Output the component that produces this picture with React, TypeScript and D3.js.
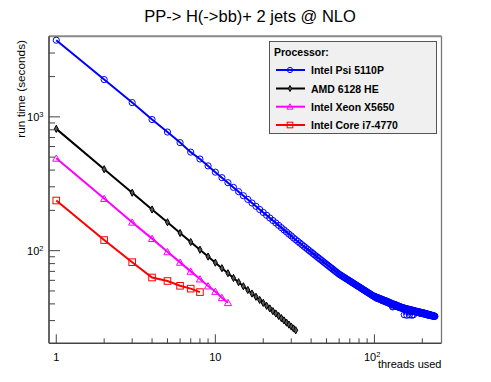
import React from 'react';
import * as d3 from 'd3';

const W = 491;
const H = 382;

const TITLE = 'PP-> H(->bb)+ 2 jets @ NLO';
const X_TITLE = 'threads used';
const Y_TITLE = 'run time (seconds)';
const LEGEND_TITLE = 'Processor:';
const SERIES_NAMES = ['Intel Psi 5110P', 'AMD 6128 HE', 'Intel Xeon X5650', 'Intel Core i7-4770'];
const SERIES_COLORS = ['#0000ff', '#000000', '#ff00ff', '#ff0000'];
const SERIES_MARKERS = ['circle', 'diamond', 'triangle', 'square'];

// run time (s) for 1..240 threads, Intel Xeon Phi ("Psi") 5110P
const psiTimes = [
  3740, 1900, 1278, 955, 770, 642, 545, 484, 430, 386,
  351, 322, 297, 276, 257.5, 241.5, 227, 214.5, 203, 193,
  183.8, 175.5, 168, 161, 154.5, 148.5, 143, 138, 133, 129,
  124.4, 120.7, 117.2, 113.9, 110.8, 107.8, 105.1, 102.4, 99.9, 97.6,
  95.3, 93.1, 91.1, 89.1, 87.3, 85.5, 83.8, 82.1, 80.6, 79.0,
  77.6, 76.2, 74.8, 73.6, 72.3, 71.1, 69.9, 68.8, 67.7, 66.7,
  65.87, 65.06, 64.28, 63.51, 62.77, 62.05, 61.34, 60.65, 59.99, 59.34,
  58.7, 58.08, 57.48, 56.88, 56.31, 55.74, 55.19, 54.66, 54.13, 53.62,
  53.11, 52.62, 52.14, 51.67, 51.2, 50.75, 50.31, 49.87, 49.45, 49.03,
  48.62, 48.22, 47.83, 47.44, 47.06, 46.69, 46.32, 45.96, 45.61, 45.26,
  45.5, 44.4, 44.9, 44.0, 44.6, 43.6, 44.2, 43.3, 43.8, 42.9,
  43.4, 42.3, 43.0, 42.1, 42.7, 41.7, 42.3, 41.3, 42.0, 41.1,
  41.7, 40.7, 41.3, 40.4, 40.2, 40.8, 39.9, 40.5, 39.6, 38.0,
  38.3, 39.9, 39.1, 39.7, 38.8, 39.4, 38.5, 38.2, 38.9, 38.1,
  38.7, 37.9, 37.6, 38.3, 37.5, 38.0, 37.2, 37.8, 37.0, 37.5,
  37.4, 36.8, 37.3, 33.2, 37.1, 36.5, 37.0, 36.3, 36.8, 32.9,
  36.7, 36.1, 36.6, 35.9, 36.4, 33.1, 36.3, 35.7, 36.2, 35.5,
  36.0, 32.9, 35.9, 35.3, 35.8, 33.2, 35.6, 35.1, 35.5, 34.9,
  35.4, 34.8, 35.3, 34.7, 34.5, 35.1, 34.6, 35.0, 34.4, 34.9,
  34.3, 34.8, 34.2, 34.7, 34.1, 34.6, 34.0, 34.5, 33.9, 34.3,
  33.8, 34.3, 33.7, 34.2, 34.2, 33.6, 34.0, 33.5, 33.9, 33.4,
  33.8, 33.3, 33.7, 33.2, 33.6, 33.1, 33.5, 33.0, 33.4, 32.8,
  33.3, 32.9, 33.2, 32.8, 33.1, 32.7, 33.0, 32.6, 32.9, 32.6,
  32.8, 32.5, 32.7, 32.4, 32.6, 32.3, 32.5, 32.2, 32.4, 32.3,
];

// AMD 6128 HE, 1..32 threads
const amdTimes = [
  813, 406, 271, 203, 163, 135.5, 116, 101.6, 90.3, 81.3,
  73.9, 67.8, 62.5, 58.1, 54.2, 50.8, 47.8, 45.2, 42.8, 40.7,
  38.7, 37.0, 35.3, 33.9, 32.5, 31.3, 30.1, 29.0, 28.0, 27.1,
  26.2, 25.4,
];

// Intel Xeon X5650, 1..12 threads
const xeonTimes = [490, 245, 163, 123, 98, 81.7, 70, 61.3, 54.4, 49.5, 44.5, 40.8];

// Intel Core i7-4770, 1..8 threads
const coreTimes = [237, 120, 82, 63, 59.3, 54.6, 52, 49];

const SERIES = [psiTimes, amdTimes, xeonTimes, coreTimes];

const X_DOMAIN = [0.9, 264];
const Y_DOMAIN = [20.3, 4000];
const X_MAJOR = [1, 10, 100];
const X_MINOR = [2, 3, 4, 5, 6, 7, 8, 9, 20, 30, 40, 50, 60, 70, 80, 90, 200];
const Y_MAJOR = [100, 1000];
const Y_MINOR = [30, 40, 50, 60, 70, 80, 90, 200, 300, 400, 500, 600, 700, 800, 900, 2000, 3000];

const FRAME = { left: 49, right: 441.5, top: 36.3, bottom: 343.3 };

const FONT = "'Liberation Sans', Arial, Helvetica, sans-serif";

function Marker({ kind, cx, cy, color, s = 1 }: { kind: string; cx: number; cy: number; color: string; s?: number }) {
  if (kind === 'circle') {
    return <circle cx={cx} cy={cy} r={3.1 * s} fill="none" stroke={color} strokeWidth={1} />;
  }
  if (kind === 'diamond') {
    const w = 2 * s, h = 3.6 * s;
    return (
      <path
        d={`M${cx},${cy - h}L${cx + w},${cy}L${cx},${cy + h}L${cx - w},${cy}Z`}
        fill="#555"
        stroke={color}
        strokeWidth={1}
      />
    );
  }
  if (kind === 'triangle') {
    const w = 3.6 * s, h = 3.4 * s;
    return (
      <path
        d={`M${cx},${cy - h}L${cx + w},${cy + h * 0.85}L${cx - w},${cy + h * 0.85}Z`}
        fill="none"
        stroke={color}
        strokeWidth={1}
      />
    );
  }
  const a = 3.3 * s;
  return <rect x={cx - a} y={cy - a} width={2 * a} height={2 * a} fill="none" stroke={color} strokeWidth={1} />;
}

function PowLabel({ x, y, exp, anchor }: { x: number; y: number; exp: number; anchor: string }) {
  return (
    <text x={x} y={y} textAnchor={anchor} fontSize={11} fill="#000">
      10
      <tspan dy={-4.5} fontSize={7.5}>
        {exp}
      </tspan>
    </text>
  );
}

export default function App() {
  const x = d3.scaleLog().domain(X_DOMAIN).range([FRAME.left, FRAME.right]);
  const y = d3.scaleLog().domain(Y_DOMAIN).range([FRAME.bottom, FRAME.top]);

  const line = d3
    .line<number>()
    .x((_, i) => x(i + 1))
    .y((d) => y(d));

  const legendX = 269.5;
  const legendY = 41.5;
  const legendW = 167;
  const legendH = 92;
  const rowY = [70, 88.5, 106.7, 125];

  return (
    <svg
      width={W}
      height={H}
      viewBox={`0 0 ${W} ${H}`}
      style={{ position: 'fixed', left: 0, top: 0, background: '#fff' }}
      fontFamily={FONT}
    >
      <rect x={0} y={0} width={W} height={H} fill="#fff" />

      {/* title */}
      <text x={250} y={22} textAnchor="middle" fontSize={16.5} fill="#000">
        {TITLE}
      </text>

      {/* frame */}
      <line x1={FRAME.left} x2={FRAME.right} y1={FRAME.top} y2={FRAME.top} stroke="#888" strokeWidth={2} />
      <line x1={FRAME.right} x2={FRAME.right} y1={FRAME.top} y2={FRAME.bottom} stroke="#777" strokeWidth={1.3} />

      {/* series */}
      {SERIES.map((vals, si) => (
        <g key={si}>
          <path d={line(vals) || ''} fill="none" stroke={SERIES_COLORS[si]} strokeWidth={2} />
          {vals.map((v, i) => (
            <Marker key={i} kind={SERIES_MARKERS[si]} cx={x(i + 1)} cy={y(v)} color={SERIES_COLORS[si]} />
          ))}
        </g>
      ))}

      {/* axes */}
      <line x1={FRAME.left} x2={FRAME.right} y1={FRAME.bottom} y2={FRAME.bottom} stroke="#444" strokeWidth={1.6} />
      <line x1={FRAME.left} x2={FRAME.left} y1={FRAME.top} y2={FRAME.bottom} stroke="#555" strokeWidth={1.8} />

      {X_MAJOR.map((t) => (
        <line key={'xM' + t} x1={x(t)} x2={x(t)} y1={FRAME.bottom} y2={FRAME.bottom - 9} stroke="#444" strokeWidth={1} />
      ))}
      {X_MINOR.map((t) => (
        <line key={'xm' + t} x1={x(t)} x2={x(t)} y1={FRAME.bottom} y2={FRAME.bottom - 5} stroke="#444" strokeWidth={1} />
      ))}
      {Y_MAJOR.map((t) => (
        <line key={'yM' + t} x1={FRAME.left} x2={FRAME.left + 11} y1={y(t)} y2={y(t)} stroke="#444" strokeWidth={1} />
      ))}
      {Y_MINOR.map((t) => (
        <line key={'ym' + t} x1={FRAME.left} x2={FRAME.left + 6} y1={y(t)} y2={y(t)} stroke="#444" strokeWidth={1} />
      ))}

      {/* x tick labels */}
      <text x={x(1)} y={361} textAnchor="middle" fontSize={11} fill="#000">1</text>
      <text x={x(10)} y={361} textAnchor="middle" fontSize={11} fill="#000">10</text>
      <PowLabel x={x(100) + 6} y={361} exp={2} anchor="end" />

      {/* y tick labels */}
      {Y_MAJOR.map((t) => (
        <PowLabel key={'yl' + t} x={43.5} y={y(t) + 4.5} exp={Math.round(Math.log10(t))} anchor="end" />
      ))}

      {/* axis titles */}
      <text x={FRAME.right} y={368} textAnchor="end" fontSize={11} fill="#000">
        {X_TITLE}
      </text>
      <text transform={`translate(25,40) rotate(-90)`} textAnchor="end" fontSize={11.8} fill="#000">
        {Y_TITLE}
      </text>

      {/* legend */}
      <rect x={legendX} y={legendY} width={legendW} height={legendH} fill="#f0f0f0" stroke="#555" strokeWidth={1} />
      <text x={274} y={56} fontSize={10.5} fontWeight="bold" fill="#000">
        {LEGEND_TITLE}
      </text>
      {SERIES_NAMES.map((name, i) => (
        <g key={name}>
          <line x1={276} x2={305} y1={rowY[i]} y2={rowY[i]} stroke={SERIES_COLORS[i]} strokeWidth={2} />
          <Marker kind={SERIES_MARKERS[i]} cx={290} cy={rowY[i]} color={SERIES_COLORS[i]} s={0.85} />
          <text x={311} y={rowY[i] + 4} fontSize={10.5} fontWeight="bold" fill="#000">
            {name}
          </text>
        </g>
      ))}
    </svg>
  );
}
